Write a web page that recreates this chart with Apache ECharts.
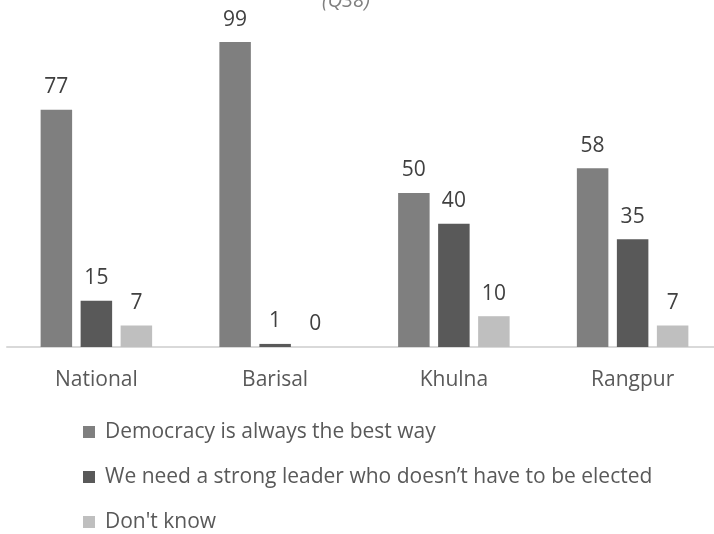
<!DOCTYPE html>
<html>
<head>
<meta charset="utf-8">
<script src="https://cdn.jsdelivr.net/npm/echarts@6/dist/echarts.min.js"></script>
<style>
  html, body { margin: 0; padding: 0; background: #ffffff; }
  #chart { width: 714px; height: 534px; }
</style>
</head>
<body>
<div id="chart"></div>
<script>
const categories = ['National', 'Barisal', 'Khulna', 'Rangpur'];
const seriesNames = [
  'Democracy is always the best way',
  'We need a strong leader who doesn\u2019t have to be elected',
  "Don't know"
];
const democracyValues = [77, 99, 50, 58];
const strongLeaderValues = [15, 1, 40, 35];
const dontKnowValues = [7, 0, 10, 7];
const titleText = '(Q38)';

const FONT = '"Open Sans", Lato, sans-serif';
const colors = ['#7f7f7f', '#595959', '#bfbfbf'];
const valueSets = [democracyValues, strongLeaderValues, dontKnowValues];

const chart = echarts.init(document.getElementById('chart'));
chart.setOption({
  animation: false,
  backgroundColor: '#ffffff',
  title: {
    text: titleText,
    left: 322,
    top: -9,
    padding: 0,
    textStyle: { fontFamily: FONT, fontSize: 20, fontStyle: 'italic', fontWeight: 'normal', color: '#7f7f7f' }
  },
  grid: { left: 7, right: -8, top: 39, bottom: 187, containLabel: false, outerBoundsMode: 'none' },
  xAxis: {
    type: 'category',
    data: categories,
    axisLine: { lineStyle: { color: '#d9d9d9', width: 2 } },
    axisTick: { show: false },
    axisLabel: { color: '#595959', fontFamily: FONT, fontSize: 21, margin: 23 }
  },
  yAxis: { type: 'value', min: 0, max: 100, show: false, splitLine: { show: false } },
  legend: {
    orient: 'vertical',
    left: 83,
    top: 420,
    bottom: -200,
    padding: 0,
    itemWidth: 12,
    itemHeight: 12,
    itemGap: 21,
    icon: 'rect',
    data: seriesNames,
    textStyle: { color: '#595959', fontFamily: FONT, fontSize: 21, lineHeight: 24, padding: [0, 0, 0, 5] }
  },
  series: valueSets.map((vals, i) => ({
    name: seriesNames[i],
    type: 'bar',
    data: vals,
    barWidth: 31.5,
    barGap: '27%',
    itemStyle: { color: colors[i] },
    label: { show: true, position: 'top', distance: 12, color: '#404040', fontFamily: FONT, fontSize: 21 }
  }))
});
</script>
</body>
</html>
